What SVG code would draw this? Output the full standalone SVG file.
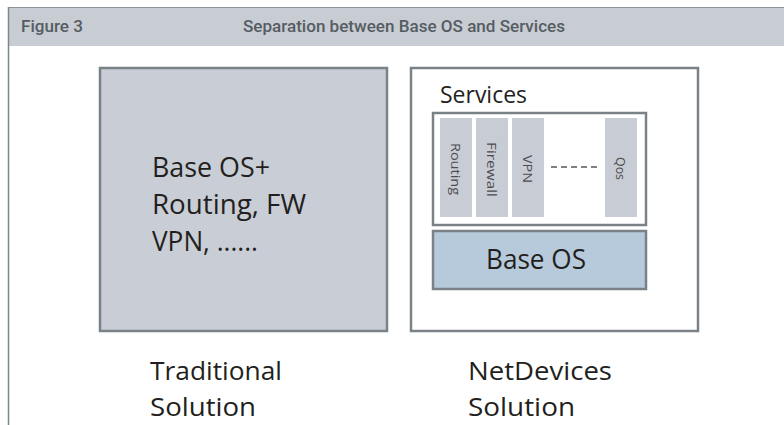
<svg xmlns="http://www.w3.org/2000/svg" width="784" height="425" viewBox="0 0 784 425">
<style>
.hdr{font-family:Roboto,"Liberation Sans",sans-serif;fill:#555d63;font-size:16.5px;font-weight:500}
.big{font-family:"Open Sans","Noto Sans","Liberation Sans",sans-serif;fill:#231f20}
.box{stroke:#7a8288;stroke-width:2.5}
.strip{fill:#c8ccd4}
.st{font-family:"Open Sans","Noto Sans","Liberation Sans",sans-serif;font-size:13.5px;fill:#4d4d4f}
</style>
<rect width="784" height="425" fill="#ffffff"/>
<g id="header">
<rect x="8" y="7" width="776" height="39" fill="#c8ccd3"/>
<line x1="8" y1="7.5" x2="784" y2="7.5" stroke="#8c9398" stroke-width="1"/>
<line x1="8.5" y1="7" x2="8.5" y2="425" stroke="#7d868c" stroke-width="1.5"/>
<text class="hdr" x="21" y="32" textLength="62" lengthAdjust="spacingAndGlyphs">Figure 3</text>
<text class="hdr" x="243" y="32" textLength="322" lengthAdjust="spacingAndGlyphs">Separation between Base OS and Services</text>
</g>
<g id="traditional">
<rect class="box" x="100" y="68" width="287" height="263" fill="#c9cdd5"/>
<text class="big" font-size="28" x="152" y="177" textLength="118" lengthAdjust="spacingAndGlyphs">Base OS+</text>
<text class="big" font-size="28" x="152" y="214" textLength="154" lengthAdjust="spacingAndGlyphs">Routing, FW</text>
<text class="big" font-size="28" x="152" y="251" textLength="106" lengthAdjust="spacingAndGlyphs">VPN, ......</text>
</g>
<g id="netdevices">
<rect class="box" x="411" y="68" width="287" height="263" fill="#ffffff"/>
<text class="big" font-size="23" x="440" y="103" textLength="87" lengthAdjust="spacingAndGlyphs">Services</text>
</g>
<g id="services">
<rect class="box" x="433" y="113" width="213" height="112" fill="#ffffff"/>
<rect class="strip" x="440" y="118" width="32" height="99"/>
<rect class="strip" x="476" y="118" width="32" height="99"/>
<rect class="strip" x="512" y="118" width="32" height="99"/>
<rect class="strip" x="605" y="118" width="32" height="99"/>
<text class="st" transform="translate(451,143) rotate(90)" textLength="52" lengthAdjust="spacingAndGlyphs">Routing</text>
<text class="st" transform="translate(487,142) rotate(90)" textLength="55" lengthAdjust="spacingAndGlyphs">Firewall</text>
<text class="st" transform="translate(523,155) rotate(90)" textLength="28" lengthAdjust="spacingAndGlyphs">VPN</text>
<text class="st" transform="translate(616,157) rotate(90)" textLength="23" lengthAdjust="spacingAndGlyphs">Qos</text>
</g>
<g id="connectors">
<line x1="551" y1="167" x2="600" y2="167" stroke="#555" stroke-width="1.3" stroke-dasharray="6,4"/>
</g>
<g id="baseos">
<rect class="box" x="433" y="231" width="213" height="58" fill="#b7cadb"/>
<text class="big" font-size="28" x="486" y="269" textLength="100" lengthAdjust="spacingAndGlyphs">Base OS</text>
</g>
<g id="labels">
<text class="big" font-size="26" x="150" y="380" textLength="132" lengthAdjust="spacingAndGlyphs">Traditional</text>
<text class="big" font-size="26" x="150" y="416" textLength="106" lengthAdjust="spacingAndGlyphs">Solution</text>
<text class="big" font-size="26" x="468" y="380" textLength="144" lengthAdjust="spacingAndGlyphs">NetDevices</text>
<text class="big" font-size="26" x="468" y="416" textLength="107" lengthAdjust="spacingAndGlyphs">Solution</text>
</g>
</svg>
